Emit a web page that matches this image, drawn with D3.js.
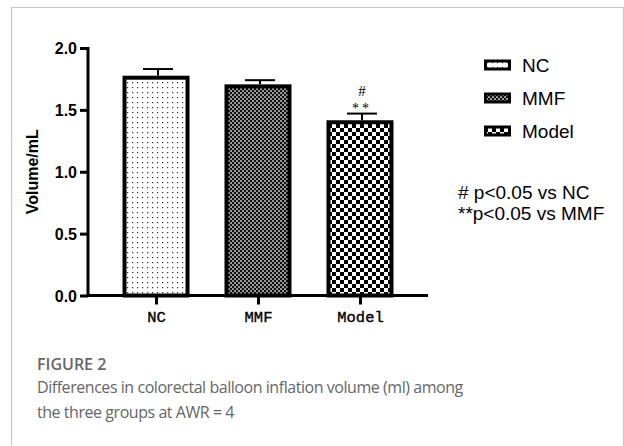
<!DOCTYPE html>
<html><head><meta charset="utf-8">
<script src="https://cdn.jsdelivr.net/npm/d3@7"></script>
<style>body{margin:0;background:#fff}svg{display:block}</style>
</head><body>
<script>
const categories = ["NC", "MMF", "Model"];
const means = [1.76, 1.69, 1.40];
const errors = [0.07, 0.05, 0.07];
const yTicks = [0.0, 0.5, 1.0, 1.5, 2.0];
const sigLabels = ["", "", "#\n**"];
const noteLines = ["# p<0.05 vs NC", "**p<0.05 vs MMF"];
const captionTitle = "FIGURE 2";
const captionLines = ["Differences in colorectal balloon inflation volume (ml) among", "the three groups at AWR = 4"];

const W = 624, H = 446;
const svg = d3.select("body").append("svg").attr("width", W).attr("height", H);

// frame
svg.append("path").attr("d", `M11.5,446 V7.5 H623.5 V446`).attr("fill", "none").attr("stroke", "#c8c8c8").attr("stroke-width", 1.2);

// patterns
const defs = svg.append("defs");
const p1 = defs.append("pattern").attr("id", "pNC").attr("patternUnits", "userSpaceOnUse").attr("width", 5).attr("height", 5);
p1.append("rect").attr("width", 5).attr("height", 5).attr("fill", "#fff");
p1.append("rect").attr("x", 2).attr("y", 2).attr("width", 1.2).attr("height", 1.2).attr("fill", "#333");
const p2 = defs.append("pattern").attr("id", "pMMF").attr("patternUnits", "userSpaceOnUse").attr("width", 4).attr("height", 4);
p2.append("rect").attr("width", 4).attr("height", 4).attr("fill", "#111");
p2.append("rect").attr("x", 0.3).attr("y", 0.3).attr("width", 1.5).attr("height", 1.5).attr("fill", "#fff");
p2.append("rect").attr("x", 2.3).attr("y", 2.3).attr("width", 1.5).attr("height", 1.5).attr("fill", "#fff");
const p3 = defs.append("pattern").attr("id", "pModel").attr("patternUnits", "userSpaceOnUse").attr("width", 8).attr("height", 8);
p3.append("rect").attr("width", 8).attr("height", 8).attr("fill", "#000");
p3.append("rect").attr("x", 0).attr("y", 0).attr("width", 4).attr("height", 4).attr("fill", "#fff");
p3.append("rect").attr("x", 4).attr("y", 4).attr("width", 4).attr("height", 4).attr("fill", "#fff");
const fills = ["url(#pNC)", "url(#pMMF)", "url(#pModel)"];

const x0 = 88, x1 = 428, y0 = 295.5, yTop = 48;
const x = d3.scalePoint().domain(categories).range([x0, x1]).padding(0.667);
const y = d3.scaleLinear().domain([0, 2]).range([y0, yTop]);
const barW = 63;

// bars
const g = svg.append("g");
g.selectAll("rect.bar").data(categories).join("rect").attr("class", "bar")
  .attr("x", d => x(d) - barW / 2).attr("width", barW)
  .attr("y", (d, i) => y(means[i])).attr("height", (d, i) => y(0) - y(means[i]))
  .attr("fill", (d, i) => fills[i]).attr("stroke", "#000").attr("stroke-width", 4);

// error bars
g.selectAll("line.ev").data(categories).join("line")
  .attr("x1", d => x(d) + 2).attr("x2", d => x(d) + 2)
  .attr("y1", (d, i) => y(means[i]) - 2).attr("y2", (d, i) => y(means[i] + errors[i]))
  .attr("stroke", "#000").attr("stroke-width", 2);
g.selectAll("line.eh").data(categories).join("line")
  .attr("x1", d => x(d) + 2 - 15).attr("x2", d => x(d) + 2 + 15)
  .attr("y1", (d, i) => y(means[i] + errors[i])).attr("y2", (d, i) => y(means[i] + errors[i]))
  .attr("stroke", "#000").attr("stroke-width", 2);

// significance labels
categories.forEach((c, i) => {
  const parts = sigLabels[i].split("\n").filter(s => s);
  if (!parts.length) return;
  const top = y(means[i] + errors[i]);
  g.append("text").attr("x", x(c) + 2).attr("y", top - 17.5).attr("text-anchor", "middle")
    .attr("font-family", "Liberation Serif").attr("font-size", 15).text(parts[0]);
  g.append("text").attr("x", x(c) + 2).attr("y", top - 1).attr("text-anchor", "middle")
    .attr("font-family", "Liberation Serif").attr("font-size", 14).attr("letter-spacing", 3).text(parts[1]);
});

// axes
const yAxis = svg.append("g").attr("transform", `translate(${x0},0)`)
  .call(d3.axisLeft(y).tickValues(yTicks).tickFormat(d3.format(".1f")).tickSize(8).tickSizeOuter(0));
yAxis.select(".domain").attr("stroke", "#000").attr("stroke-width", 3).attr("d", `M0,${yTop - 1}V${y0 + 1.5}`);
yAxis.selectAll(".tick line").attr("stroke", "#000").attr("stroke-width", 3);
yAxis.selectAll(".tick text").attr("font-family", "Liberation Sans").attr("font-weight", "bold")
  .attr("font-size", 16).attr("fill", "#000").attr("x", -11).attr("dy", "0.36em");

const xAxis = svg.append("g").attr("transform", `translate(0,${y0})`)
  .call(d3.axisBottom(x).tickSize(9).tickSizeOuter(0));
xAxis.select(".domain").attr("stroke", "#000").attr("stroke-width", 3).attr("d", `M${x0 - 1.5},0H${x1}`);
xAxis.selectAll(".tick line").attr("stroke", "#000").attr("stroke-width", 3);
xAxis.selectAll(".tick text").attr("font-family", "Liberation Mono").attr("font-size", 15.5)
  .attr("fill", "#000").attr("stroke", "#000").attr("stroke-width", 0.35)
  .attr("y", 15).attr("dy", "0.71em");

svg.append("text").attr("transform", `translate(38,${(y0 + yTop) / 2}) rotate(-90)`)
  .attr("text-anchor", "middle").attr("font-family", "Liberation Sans").attr("font-weight", "bold")
  .attr("font-size", 16).text("Volume/mL");

// legend
const lg = svg.append("g");
categories.forEach((c, i) => {
  const ly = 65 + i * 33;
  lg.append("rect").attr("x", 485.5).attr("y", ly - 4).attr("width", 24).attr("height", 8)
    .attr("fill", fills[i]).attr("stroke", "#000").attr("stroke-width", 3);
  lg.append("text").attr("x", 522).attr("y", ly + 7).attr("font-family", "Liberation Sans")
    .attr("font-size", 19).attr("fill", "#000").text(c);
});
noteLines.forEach((t, i) => {
  svg.append("text").attr("x", 458).attr("y", 199 + i * 21).attr("font-family", "Liberation Sans")
    .attr("font-size", 19).attr("fill", "#000").text(t);
});

// caption
svg.append("text").attr("x", 37).attr("y", 370).attr("font-family", "Open Sans").attr("font-weight", 600)
  .attr("font-size", 16).attr("fill", "#666").text(captionTitle);
captionLines.forEach((t, i) => {
  svg.append("text").attr("x", 37).attr("y", 393 + i * 25).attr("font-family", "Open Sans")
    .attr("font-size", 16).attr("fill", "#666").attr("letter-spacing", -0.45).text(t);
});
</script>
</body></html>
